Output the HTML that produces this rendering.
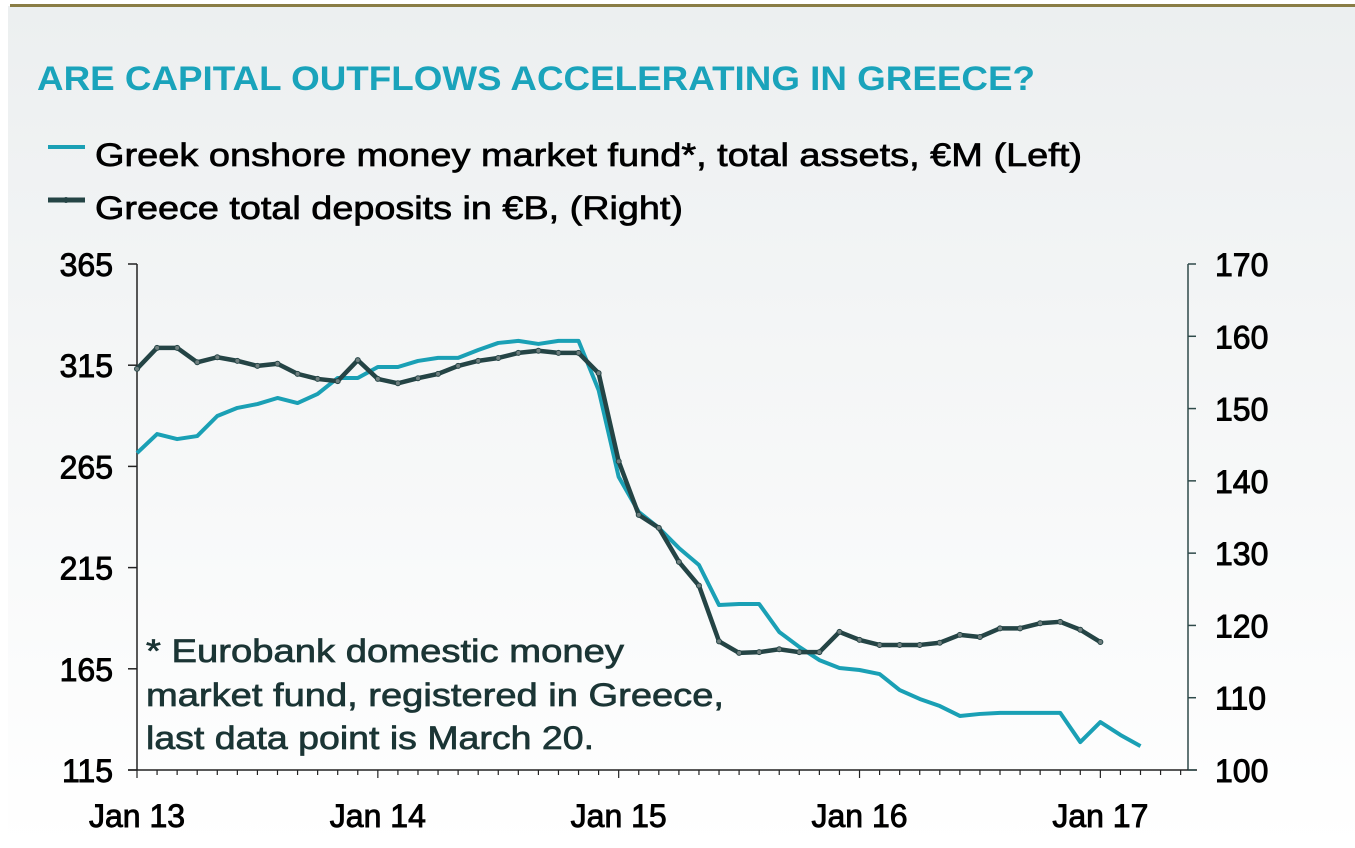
<!DOCTYPE html>
<html><head><meta charset="utf-8"><style>
html,body{margin:0;padding:0;background:#fff;}
svg{display:block;font-family:"Liberation Sans",Arial,sans-serif;}
.med{stroke:currentColor;stroke-width:0.7px;}
</style></head><body>
<svg width="1355" height="848" viewBox="0 0 1355 848">
<defs><linearGradient id="bg" x1="0" y1="0" x2="0" y2="1"><stop offset="0" stop-color="#eceff0"/><stop offset="1" stop-color="#ffffff"/></linearGradient></defs>
<rect x="8" y="6" width="1347" height="842" fill="url(#bg)"/>
<rect x="10" y="4" width="1345" height="3" fill="#8a7d45"/>
<text x="37" y="90" font-size="34" font-weight="bold" fill="#1aa3bb" textLength="998" lengthAdjust="spacingAndGlyphs">ARE CAPITAL OUTFLOWS ACCELERATING IN GREECE?</text>
<g>
<line x1="48" y1="147" x2="85" y2="147" stroke="#1aa0b5" stroke-width="4"/>
<text class="med" x="95" y="166" font-size="32" fill="#000" color="#000" textLength="987" lengthAdjust="spacingAndGlyphs">Greek onshore money market fund*, total assets, €M (Left)</text>
<line x1="48" y1="200" x2="85" y2="200" stroke="#244445" stroke-width="5"/>
<circle cx="66" cy="200" r="3" fill="#244445"/>
<text class="med" x="95" y="219" font-size="32" fill="#000" color="#000" textLength="588" lengthAdjust="spacingAndGlyphs">Greece total deposits in €B, (Right)</text>
</g>
<g id="axes"></g>
<g id="series"></g>
<g fill="#1b3535" color="#1b3535" font-size="32" class="med">
<text x="146" y="662" textLength="478" lengthAdjust="spacingAndGlyphs">* Eurobank domestic money</text>
<text x="146" y="706" textLength="578" lengthAdjust="spacingAndGlyphs">market fund, registered in Greece,</text>
<text x="146" y="749" textLength="448" lengthAdjust="spacingAndGlyphs">last data point is March 20.</text>
</g>
</svg>
<script>
const leftTicks=[115,165,215,265,315,365];
const rightTicks=[100,110,120,130,140,150,160,170];
const yearLabels=["Jan 13","Jan 14","Jan 15","Jan 16","Jan 17"];
// monthly from Jan 2013
const mmfValues=[271.6,281.0,278.5,280.0,289.9,293.9,295.8,298.8,296.3,300.8,308.7,308.7,314.1,314.1,317.1,318.6,318.6,322.5,326.0,327.0,325.5,327.0,327.0,302.7,259.8,242.5,234.6,224.7,216.3,196.5,197.0,197.0,183.2,175.8,169.3,165.4,164.4,162.4,154.5,150.1,146.6,141.7,142.7,143.2,143.2,143.2,143.2,128.8,138.7,132.3,126.8];
const depositValues=[155.5,158.4,158.4,156.4,157.1,156.6,155.9,156.2,154.8,154.1,153.8,156.7,154.1,153.5,154.2,154.8,155.9,156.6,157.0,157.7,158.0,157.7,157.7,154.9,142.7,135.3,133.5,128.8,125.5,117.8,116.2,116.3,116.7,116.3,116.3,119.1,118.0,117.3,117.3,117.3,117.6,118.7,118.4,119.6,119.6,120.3,120.5,119.4,117.7];
const X0=137,MONTH=20.07,YT=264,YB=770;
const xAt=i=>X0+i*MONTH;
const yL=v=>YB-(v-115)/(365-115)*(YB-YT);
const yR=v=>YB-(v-100)/(170-100)*(YB-YT);
const NS="http://www.w3.org/2000/svg";
function mk(tag,attrs,parent){const e=document.createElementNS(NS,tag);for(const k in attrs)e.setAttribute(k,attrs[k]);parent.appendChild(e);return e;}
const ax=document.getElementById('axes'),se=document.getElementById('series');
let e;
e=mk('line',{x1:X0,y1:YT,x2:X0,y2:YB,stroke:'#222',"stroke-width":1.5},ax);


e=mk('line',{x1:1188,y1:YT,x2:1188,y2:YB,stroke:'#2f4a4a',"stroke-width":1.5},ax);


e=mk('line',{x1:128,y1:YB,x2:1197,y2:YB,stroke:'#222',"stroke-width":1.5},ax);


const lab={"font-size":32,fill:'#000',stroke:'#000',"stroke-width":0.9};
leftTicks.forEach(v=>{const y=yL(v);
e=mk('line',{x1:128,y1:y,x2:X0,y2:y,stroke:'#222',"stroke-width":1.5},ax);


e=mk('text',Object.assign({x:113,y:y+12,"text-anchor":"end"},lab),ax);e.textContent=v;

});
rightTicks.forEach(v=>{const y=yR(v);
e=mk('line',{x1:1188,y1:y,x2:1196,y2:y,stroke:'#2f4a4a',"stroke-width":1.5},ax);


e=mk('text',Object.assign({x:1215,y:y+12},lab),ax);e.textContent=v;

});
for(let i=0;i<=52;i++){const x=xAt(i);const big=i%12===0;
e=mk('line',{x1:x,y1:YB,x2:x,y2:YB+(big?8:5),stroke:'#222',"stroke-width":1.2},ax);

}
yearLabels.forEach((l,k)=>{
e=mk('text',Object.assign({x:xAt(k*12),y:827,"text-anchor":"middle"},lab),ax);e.textContent=l;

});
e=mk('polyline',{points:mmfValues.map((v,i)=>xAt(i)+','+yL(v)).join(' '),fill:'none',stroke:'#1aa0b5',"stroke-width":4,"stroke-linejoin":"round"},se);


e=mk('polyline',{points:depositValues.map((v,i)=>xAt(i)+','+yR(v)).join(' '),fill:'none',stroke:'#244445',"stroke-width":4.5,"stroke-linejoin":"round"},se);


depositValues.forEach((v,i)=>{
e=mk('circle',{cx:xAt(i),cy:yR(v),r:2.5,fill:'#6f7f7f',stroke:'#244445',"stroke-width":1},se);

});
</script>
</body></html>
